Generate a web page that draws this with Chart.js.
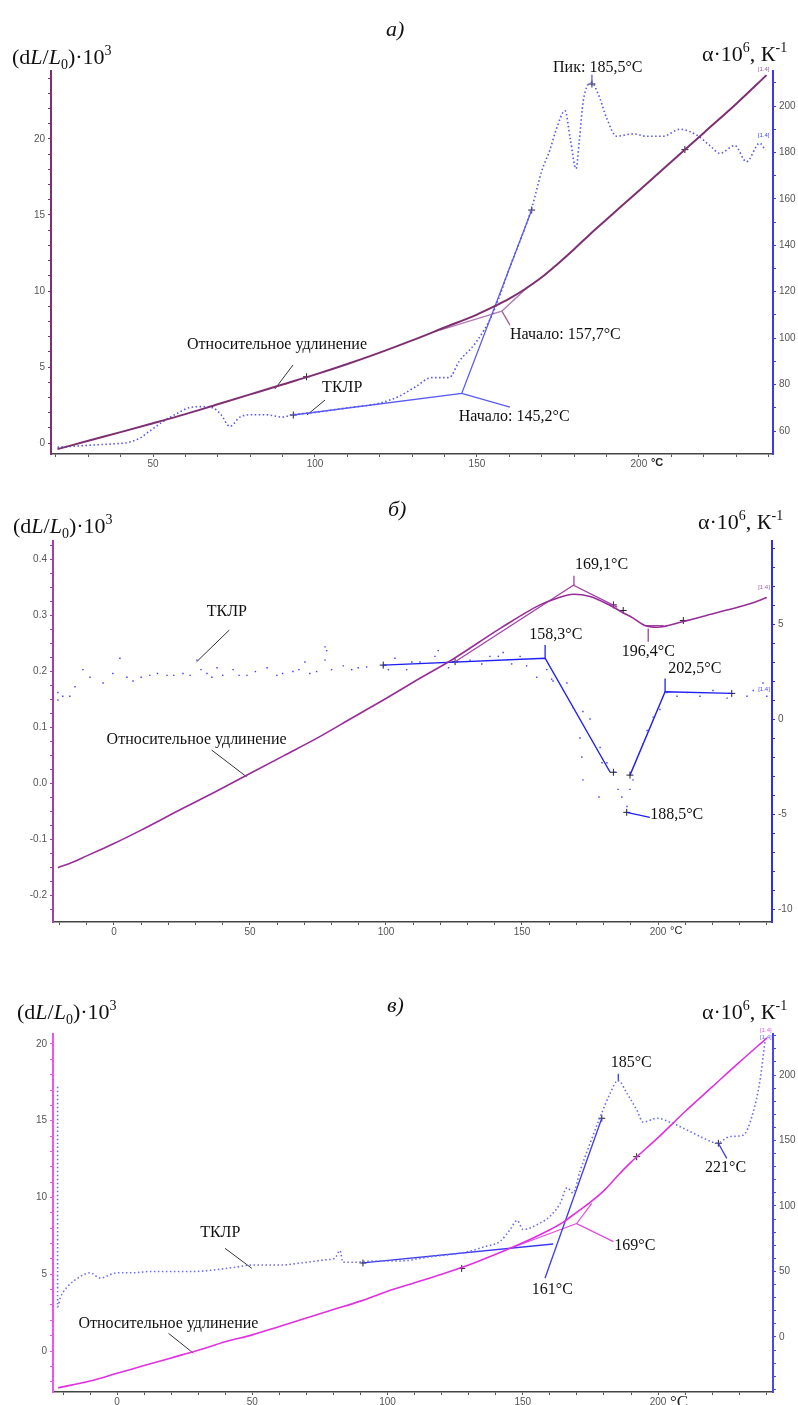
<!DOCTYPE html>
<html>
<head>
<meta charset="utf-8">
<script src="https://cdn.jsdelivr.net/npm/chart.js@4.4.0/dist/chart.umd.min.js"></script>
<style>
  body { margin: 0; background: #fff; width: 798px; height: 1405px; position: relative; overflow: hidden; }
  canvas { position: absolute; left: 0; }
</style>
</head>
<body>
<canvas id="chart-a" width="798" height="470" style="top:0"></canvas>
<canvas id="chart-b" width="798" height="470" style="top:470px"></canvas>
<canvas id="chart-c" width="798" height="465" style="top:940px"></canvas>
<script>
// ===== panel а) =====
const aTemp = [20.5, 30, 40, 50, 60, 70, 80, 90, 100, 110, 120, 130, 140, 150, 155, 160, 165, 170, 175, 180, 185, 190, 195, 200, 210, 220, 230, 239.4];
const aElong = [-0.4, 0.15, 0.72, 1.3, 1.9, 2.55, 3.2, 3.85, 4.5, 5.2, 5.95, 6.75, 7.6, 8.45, 8.95, 9.5, 10.15, 10.9, 11.8, 12.75, 13.75, 14.7, 15.65, 16.6, 18.5, 20.4, 22.3, 24.2];
const aTclrTemp = [20.5, 26, 32, 38, 42, 46, 49, 53, 58, 61, 65, 68.5, 71, 73.7, 76.8, 80, 85, 90, 93, 100, 110, 120, 126, 131, 136, 141.4, 144.5, 149.6, 155, 160, 166.9, 170, 172.5, 174.5, 177.2, 178.8, 180.6, 181.6, 182.8, 185.4, 187.5, 190, 193.1, 198.2, 202.4, 207.5, 212.7, 217.8, 221.9, 225, 229.6, 233.2, 237.3, 239];
const aTclr = [53, 53.5, 54, 54.5, 55, 57, 60, 64, 68, 70, 70.5, 70, 67, 62, 66, 67, 67, 66, 67, 68, 70, 72, 75, 79, 83, 83, 90, 98, 111, 130, 156, 172, 181, 190, 198, 186, 173, 185, 202, 210, 205, 195, 187, 188, 187, 187, 190, 187.5, 183, 179.6, 183, 176, 184, 181];
const aBlueTanT = [93.3, 145.3, 166.9], aBlueTanV = [66.9, 76.2, 155.2];
const aBlueLeadT = [145.3, 160.2], aBlueLeadV = [76.2, 70.3];
const aPurpleTanT = [138.6, 157.7, 165.8], aPurpleTanV = [7.43, 8.68, 10.28];
const aPurpleLeadT = [157.7, 160.2], aPurpleLeadV = [8.68, 7.76];
const aPeakT = [185.5, 185.5], aPeakV = [213.5, 209.5];
const aLeadElongT = [93.2, 87.6], aLeadElongV = [5.13, 3.55];
const aLeadTclrT = [103.1, 97.5], aLeadTclrV = [2.83, 1.84];
const aCrossT = [97.4, 214.2], aCrossV = [4.36, 19.3];
const aCross1T = [93.3, 166.9, 185.5], aCross1V = [66.9, 155.2, 209.5];
const aNotes = [
  ['Относительное удлинение', 60.5, 6.45, 'y'],
  ['ТКЛР', 102.2, 3.62, 'y'],
  ['Начало: 145,2°C', 144.4, 1.71, 'y'],
  ['Начало: 157,7°C', 160.2, 7.1, 'y'],
  ['Пик: 185,5°C', 173.5, 24.7, 'y']
];
const aTags = [['[1.4]', 236.7, 24.6, 'y', '#a060a0'], ['[1.4]', 236.7, 187.5, 'y1', '#4a4af0']];

// ===== panel б) =====
const bTemp = [-20.6, -15, -10, -5, 0, 10, 25, 37.5, 50, 62.5, 75, 87.5, 100, 110, 124.6, 142, 156.6, 162.9, 168.9, 175, 182.4, 187.2, 191, 195.2, 199.6, 209, 221.5, 233.8, 240];
const bElong = [-0.150, -0.140, -0.129, -0.118, -0.107, -0.083, -0.045, -0.014, 0.018, 0.05, 0.082, 0.117, 0.152, 0.181, 0.222, 0.277, 0.319, 0.331, 0.338, 0.334, 0.318, 0.305, 0.295, 0.282, 0.279, 0.289, 0.305, 0.321, 0.332];
const bTclrTemp = [-20.6, -20.6, -18.8, -16.2, -14.3, -11.4, -8.8, -4, -0.4, 2.2, 4.8, 7, 10, 13.2, 16, 19.5, 22, 25.4, 28, 30.5, 32, 34.2, 36, 37.9, 40, 43.8, 46, 48.9, 52, 56.3, 59.9, 62, 65.8, 68, 70.2, 72, 74.5, 77.6, 78.2, 77.6, 80, 84.3, 87.4, 89.8, 92.9, 98.9, 100.9, 103.3, 107.6, 109.5, 112.5, 118, 119.2, 123, 130.9, 135.2, 138.2, 141.3, 143.1, 146.2, 149.3, 151.7, 155.4, 159.1, 160.9, 161.4, 166.5, 168.8, 172.4, 171.3, 172, 172.4, 175, 178.7, 179.4, 178.3, 181.2, 184.2, 185.3, 186.7, 188.6, 189.7, 190.8, 194.5, 196, 198.2, 200.7, 203.3, 207, 210.7, 215.4, 220.2, 225.4, 232.7, 235, 238.6, 240];
const bTclr = [1.4, 1.0, 1.2, 1.2, 1.7, 2.6, 2.2, 1.9, 2.4, 3.2, 2.2, 2.0, 2.2, 2.3, 2.4, 2.3, 2.3, 2.4, 2.3, 3.1, 2.6, 2.4, 2.2, 2.7, 2.3, 2.6, 2.3, 2.3, 2.5, 2.7, 2.3, 2.4, 2.5, 2.6, 3.0, 2.4, 2.5, 3.8, 3.6, 3.1, 2.6, 2.8, 2.6, 2.7, 2.74, 2.8, 2.6, 3.2, 2.6, 3.0, 3.0, 3.3, 3.6, 2.7, 3.1, 2.9, 3.3, 3.3, 3.5, 2.9, 3.3, 2.8, 2.2, 2.6, 2.1, 2.0, 1.9, 0.6, 0.4, -1.0, -2.0, -3.2, 0, -1.5, -2.3, -4.1, -2.3, -2.8, -3.7, -4.1, -4.6, -3.7, -3.2, -1.3, -0.6, 0.1, 0.5, 1.4, 1.2, 1.4, 1.2, 1.5, 1.1, 1.2, 1.5, 1.9, 1.2];
const bPeakTanT = [125.4, 168.9, 185], bPeakTanV = [0.2175, 0.354, 0.315];
const bPeakTickT = [169.1, 169.1], bPeakTickV = [0.354, 0.371];
const bMinTanT = [195.2, 202], bMinTanV = [0.282, 0.282];
const bMinTickT = [196.4, 196.4], bMinTickV = [0.277, 0.253];
const bBlueTanT = [99, 158.5, 182.4], bBlueTanV = [2.84, 3.2, -2.8];
const bBlueRiseT = [189.7, 202.6, 227.1], bBlueRiseV = [-2.95, 1.44, 1.35];
const bTick158T = [158.5, 158.5], bTick158V = [3.2, 3.9];
const bTick202T = [202.6, 202.6], bTick202V = [1.44, 2.14];
const bLead188T = [188.5, 197], bLead188V = [-4.91, -5.17];
const bLeadTclrT = [42.4, 30.4], bLeadTclrV = [0.274, 0.2175];
const bLeadElongT = [35.9, 48.8], bLeadElongV = [0.06, 0.012];
const bCrossT = [125.4, 183.6, 187.2, 209.3], bCrossV = [0.2175, 0.319, 0.309, 0.291];
const bCross1T = [99, 183.6, 189.7, 227.1, 188.5], bCross1V = [2.84, -2.8, -2.95, 1.35, -4.91];
const bNotes = [
  ['ТКЛР', 34.1, 0.307, 'y'],
  ['Относительное удлинение', -2.7, 0.079, 'y'],
  ['169,1°C', 169.5, 0.39, 'y'],
  ['158,3°C', 152.7, 0.265, 'y'],
  ['196,4°C', 186.7, 0.2345, 'y'],
  ['202,5°C', 203.8, 0.2045, 'y'],
  ['188,5°C', 197.1, -0.055, 'y']
];
const bTags = [['[1.4]', 236.8, 0.351, 'y', '#a060a0'], ['[1.4]', 236.8, 1.58, 'y1', '#4a4af0']];

// ===== panel в) =====
const cTemp = [-21.8, -10, 0, 10, 20, 30, 40, 50, 60, 70, 80, 90, 100, 110, 120, 130, 140, 150, 160, 165, 170, 175, 180, 185, 190, 200, 210, 220, 230, 240.3];
const cElong = [-2.4, -1.95, -1.45, -0.95, -0.45, 0.05, 0.6, 1.05, 1.6, 2.15, 2.7, 3.25, 3.9, 4.45, 5.0, 5.6, 6.3, 7.05, 7.9, 8.4, 9.05, 9.7, 10.45, 11.4, 12.3, 13.9, 15.6, 17.2, 18.8, 20.4];
const cTclrTemp = [-22, -22, -21, -18.5, -13.7, -10, -6.3, 0, 5.9, 12.2, 20, 28, 35, 42.9, 50.3, 55, 61.4, 66, 70.2, 77.6, 80.5, 82.4, 83.5, 87.2, 95, 104.6, 115, 129.4, 136, 141.6, 145.3, 147.9, 150.1, 156.4, 160, 163.8, 166.4, 168.6, 171.2, 174.9, 178.6, 182.3, 185.2, 188.5, 192.2, 194.5, 199.6, 204.4, 210.7, 216.6, 221.8, 226.6, 231.4, 235.1, 237.7, 239.6];
const cTclr = [191, 23, 30, 38, 46, 49, 45, 49, 49, 50, 50, 50, 51, 53, 55, 55, 55, 56, 57, 59, 60, 66, 57, 57, 58, 58, 61, 65, 69, 73, 82, 89, 82, 87, 92, 102, 114, 110, 127, 148, 168, 186, 196, 186, 173, 164, 167, 164, 158, 152, 148, 153, 154, 171, 196, 227];
const cBlueTanT = [90.9, 161.2], cBlueTanV = [56.5, 71];
const cBlueSteepT = [158.2, 179.2], cBlueSteepV = [44.8, 167];
const cPinkTanT = [145.4, 169.9, 175.5], cPinkTanV = [6.69, 8.3, 9.62];
const cPinkLeadT = [169.9, 183.5], cPinkLeadV = [8.3, 7.12];
const cPeakTickT = [185.3, 185.3], cPeakTickV = [201, 195];
const cLead221T = [222.3, 225.4], cLead221V = [147.9, 136.4];
const cLeadTclrT = [39.9, 49.8], cLeadTclrV = [67.7, 52.4];
const cLeadElongT = [19, 28.2], cLeadElongV = [2.8, -12.4];
const cCrossT = [127.4, 192.1], cCrossV = [5.38, 12.66];
const cCross1T = [179.2, 222.3, 90.9], cCross1V = [167, 147.9, 56.5];
const cNotes = [
  ['ТКЛР', 30.7, 79.6, 'y1'],
  ['Относительное удлинение', -14.3, 10.4, 'y1'],
  ['185°C', 182.5, 209, 'y1'],
  ['221°C', 217.4, 128.8, 'y1'],
  ['169°C', 183.8, 69.5, 'y1'],
  ['161°C', 153.3, 35.9, 'y1']
];
const cTags = [['[1.4]', 237.7, 234, 'y1', '#e060e0'], ['[1.4]', 237.7, 229, 'y1', '#6a6af5']];

const serif = '"Liberation Serif", "Times New Roman", serif';
const sans = '"Liberation Sans", Arial, sans-serif';
const leftRuns = [['(d'], ['L', 'i'], ['/'], ['L', 'i'], ['0', 'sub'], [')·10'], ['3', 'sup']];
const rightRuns = [['α·10'], ['6', 'sup'], [', К'], ['-1', 'sup']];

const xy = (xs, ys) => xs.map((x, i) => ({ x: x, y: ys[i] }));
const isMultiple = (v, every) => Math.abs(v / every - Math.round(v / every)) < 1e-6;

function line(xs, ys, axis, color, width, more) {
  return Object.assign({
    data: xy(xs, ys), yAxisID: axis, borderColor: color, backgroundColor: color,
    borderWidth: width, pointRadius: 0, fill: false
  }, more || {});
}

function crosses(xs, ys, axis) {
  return {
    data: xy(xs, ys), yAxisID: axis, showLine: false, pointStyle: 'cross',
    pointRadius: 3.5, borderColor: '#222', backgroundColor: '#222', borderWidth: 1
  };
}

function drawRich(ctx, runs, x, y, size) {
  runs.forEach(r => {
    const small = r[1] === 'sup' || r[1] === 'sub';
    const s = small ? Math.round(size * 0.62) : size;
    ctx.font = (r[1] === 'i' ? 'italic ' : '') + s + 'px ' + serif;
    const dy = r[1] === 'sup' ? -size * 0.42 : r[1] === 'sub' ? size * 0.22 : 0;
    ctx.fillText(r[0], x, y + dy);
    x += ctx.measureText(r[0]).width;
  });
}

// text labels, headings and axis titles drawn over the plot
const notesPlugin = {
  id: 'notes',
  afterDraw(chart, args, o) {
    const ctx = chart.ctx, xs = chart.scales.x, area = chart.chartArea;
    ctx.save();
    ctx.textAlign = 'left';
    ctx.textBaseline = 'middle';
    ctx.fillStyle = '#111';
    ctx.font = '16px ' + serif;
    o.notes.forEach(n => {
      ctx.fillText(n[0], xs.getPixelForValue(n[1]), chart.scales[n[3]].getPixelForValue(n[2]));
    });
    ctx.font = '6px ' + sans;
    o.tags.forEach(n => {
      ctx.fillStyle = n[4];
      ctx.fillText(n[0], xs.getPixelForValue(n[1]), chart.scales[n[3]].getPixelForValue(n[2]));
    });
    ctx.fillStyle = '#222';
    ctx.font = o.unitFont;
    ctx.fillText('°C', xs.getPixelForValue(200) + 12, area.bottom + o.unitDy);

    ctx.fillStyle = '#111';
    ctx.textBaseline = 'alphabetic';
    ctx.font = 'italic 22px ' + serif;
    ctx.fillText(o.title, o.titleX, o.titleY);
    drawRich(ctx, leftRuns, o.leftX, o.leftY, 22);
    drawRich(ctx, rightRuns, o.rightX, o.rightY, 22);
    ctx.restore();
  }
};

function makePanel(id, p, datasets) {
  const tickFont = { family: sans, size: 10 };
  return new Chart(document.getElementById(id), {
    type: 'line',
    data: { datasets: datasets },
    plugins: [notesPlugin],
    options: {
      responsive: false,
      devicePixelRatio: 1,
      animation: false,
      layout: { padding: { top: p.padTop, left: 0, right: 0, bottom: 0 } },
      elements: { line: { borderCapStyle: 'butt' } },
      plugins: {
        legend: { display: false },
        tooltip: { enabled: false },
        notes: p.notes
      },
      scales: {
        x: {
          type: 'linear', min: p.xMin, max: p.xMax,
          border: { color: '#444', width: 1.5 },
          grid: { drawOnChartArea: false, color: '#555', tickLength: 3 },
          ticks: {
            stepSize: 10, autoSkip: false, maxRotation: 0, padding: 1, includeBounds: false,
            color: '#555', font: tickFont,
            callback: v => isMultiple(v, 50) ? String(v) : ''
          },
          afterFit: s => { s.height = p.xH; }
        },
        y: {
          type: 'linear', position: 'left', min: p.yMin, max: p.yMax,
          border: { color: p.leftColor, width: 2 },
          grid: { drawOnChartArea: false, color: p.leftColor, tickLength: 3 },
          ticks: {
            stepSize: p.yStep, autoSkip: false, padding: 3, includeBounds: false,
            color: '#555', font: tickFont,
            callback: v => isMultiple(v, p.yEvery) ? v.toFixed(p.yDigits) : ''
          },
          afterFit: s => { s.width = p.leftW; }
        },
        y1: {
          type: 'linear', position: 'right', min: p.y1Min, max: p.y1Max,
          border: { color: p.rightColor, width: 2 },
          grid: { drawOnChartArea: false, color: p.rightColor, tickLength: 3 },
          ticks: {
            stepSize: p.y1Step, autoSkip: false, padding: 3, includeBounds: false,
            color: '#555', font: tickFont,
            callback: v => isMultiple(v, p.y1Every) ? String(v) : ''
          },
          afterFit: s => { s.width = p.rightW; }
        }
      }
    }
  });
}

const smooth = { cubicInterpolationMode: 'monotone' };
const dotted = { cubicInterpolationMode: 'monotone', borderDash: [1.5, 2.5] };

// а)
makePanel('chart-a', {
  padTop: 71, xH: 16, leftW: 51, rightW: 25,
  xMin: 18.5, xMax: 241.4,
  yMin: -0.72, yMax: 24.47, yStep: 1, yEvery: 5, yDigits: 0,
  y1Min: 50.1, y1Max: 215.1, y1Step: 10, y1Every: 20,
  leftColor: '#7d2f72', rightColor: '#3b3bea',
  notes: {
    notes: aNotes, tags: aTags, title: 'а)', titleX: 386, titleY: 36,
    leftX: 12, leftY: 64, rightX: 702, rightY: 61,
    unitFont: 'bold 11px ' + sans, unitDy: 9
  }
}, [
  line(aTemp, aElong, 'y', '#7d2f72', 2, smooth),
  line(aTclrTemp, aTclr, 'y1', '#5656f0', 1.6, dotted),
  line(aBlueTanT, aBlueTanV, 'y1', '#5b5bf2', 1.3),
  line(aBlueLeadT, aBlueLeadV, 'y1', '#5b5bf2', 1.3),
  line(aPurpleTanT, aPurpleTanV, 'y', '#b47ab4', 1.3),
  line(aPurpleLeadT, aPurpleLeadV, 'y', '#a0609a', 1.3),
  line(aPeakT, aPeakV, 'y1', '#5b5bf2', 1.3),
  line(aLeadElongT, aLeadElongV, 'y', '#333', 1),
  line(aLeadTclrT, aLeadTclrV, 'y', '#333', 1),
  crosses(aCrossT, aCrossV, 'y'),
  crosses(aCross1T, aCross1V, 'y1')
]);

// б)
makePanel('chart-b', {
  padTop: 71, xH: 18, leftW: 53, rightW: 26,
  xMin: -22.4, xMax: 241.9,
  yMin: -0.247, yMax: 0.433, yStep: 0.025, yEvery: 0.1, yDigits: 1,
  y1Min: -10.68, y1Max: 9.37, y1Step: 1, y1Every: 5,
  leftColor: '#a040a8', rightColor: '#2f2ff0',
  notes: {
    notes: bNotes, tags: bTags, title: 'б)', titleX: 388, titleY: 46,
    leftX: 13, leftY: 63, rightX: 698, rightY: 59,
    unitFont: '11px ' + sans, unitDy: 9
  }
}, [
  line(bTemp, bElong, 'y', '#982d98', 1.6, smooth),
  line(bTclrTemp, bTclr, 'y1', '#3d3dff', 0, { showLine: false, pointRadius: 1, pointStyle: 'rect', pointBorderWidth: 0 }),
  line(bPeakTanT, bPeakTanV, 'y', '#a040a8', 1.2),
  line(bPeakTickT, bPeakTickV, 'y', '#a040a8', 1.3),
  line(bMinTanT, bMinTanV, 'y', '#a040a8', 1.2),
  line(bMinTickT, bMinTickV, 'y', '#a040a8', 1.3),
  line(bBlueTanT, bBlueTanV, 'y1', '#1f1ff5', 1.4),
  line(bBlueRiseT, bBlueRiseV, 'y1', '#1f1ff5', 1.4),
  line(bTick158T, bTick158V, 'y1', '#1f1ff5', 1.3),
  line(bTick202T, bTick202V, 'y1', '#1f1ff5', 1.3),
  line(bLead188T, bLead188V, 'y1', '#1f1ff5', 1.3),
  line(bLeadTclrT, bLeadTclrV, 'y', '#333', 1),
  line(bLeadElongT, bLeadElongV, 'y', '#333', 1),
  crosses(bCrossT, bCrossV, 'y'),
  crosses(bCross1T, bCross1V, 'y1')
]);

// в)
makePanel('chart-c', {
  padTop: 94, xH: 13, leftW: 53, rightW: 25,
  xMin: -23.7, xMax: 242.5,
  yMin: -2.67, yMax: 20.65, yStep: 1, yEvery: 5, yDigits: 0,
  y1Min: -42, y1Max: 231.3, y1Step: 10, y1Every: 50,
  leftColor: '#ee55ee', rightColor: '#4848f0',
  notes: {
    notes: cNotes, tags: cTags, title: 'в)', titleX: 387, titleY: 72,
    leftX: 17, leftY: 79, rightX: 702, rightY: 79,
    unitFont: '17px ' + serif, unitDy: 11
  }
}, [
  line(cTemp, cElong, 'y', '#e030e0', 1.6, smooth),
  line(cTclrTemp, cTclr, 'y1', '#6a6af5', 1.6, dotted),
  line(cBlueTanT, cBlueTanV, 'y1', '#3a3af0', 1.3),
  line(cBlueSteepT, cBlueSteepV, 'y1', '#3a3af0', 1.3),
  line(cPinkTanT, cPinkTanV, 'y', '#e050e0', 1.2),
  line(cPinkLeadT, cPinkLeadV, 'y', '#e050e0', 1.3),
  line(cPeakTickT, cPeakTickV, 'y1', '#3a3af0', 1.3),
  line(cLead221T, cLead221V, 'y1', '#3a3af0', 1.3),
  line(cLeadTclrT, cLeadTclrV, 'y1', '#333', 1),
  line(cLeadElongT, cLeadElongV, 'y1', '#333', 1),
  crosses(cCrossT, cCrossV, 'y'),
  crosses(cCross1T, cCross1V, 'y1')
]);
</script>
</body>
</html>
